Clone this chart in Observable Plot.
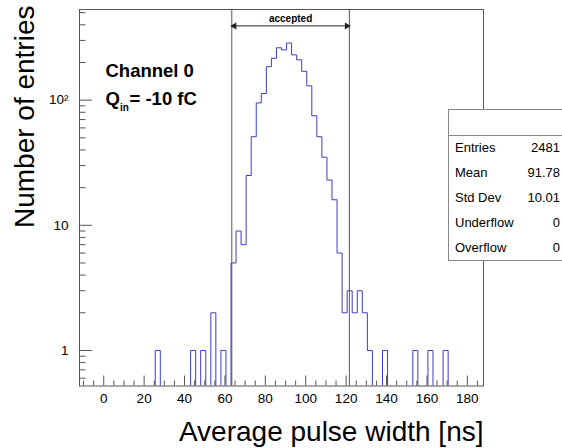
<!DOCTYPE html>
<html><head><meta charset="utf-8">
<script src="https://cdn.jsdelivr.net/npm/d3@7"></script>
<script src="https://cdn.jsdelivr.net/npm/@observablehq/plot@0.6"></script>
<style>
html,body{margin:0;padding:0;background:#fff;overflow:hidden;}
#wrap{position:relative;width:562px;height:448px;font-family:"Liberation Sans",Arial,Helvetica,sans-serif;overflow:hidden;}
#wrap svg{position:absolute;left:0;top:0;}
#stats{position:absolute;left:448px;top:109px;width:120px;height:152px;border:1px solid #888;background:#fff;box-sizing:border-box;font-size:13px;color:#000;}
#stats .hdr{position:absolute;left:0;right:0;top:0;height:25px;border-bottom:1px solid #888;}
#stats .row{position:absolute;left:6px;width:105px;height:22px;line-height:22px;}
#stats .row .v{position:absolute;right:0;top:0;}
</style></head><body><div id="wrap"></div>
<script>
// Histogram: 80 bins of width 2.5 starting at -12
const binLow = -12;
const binWidth = 2.5;
const counts = [
  0,0,0,0,0,0,0,0,0,0,
  0,0,0,0,0,1,0,0,0,0,
  0,0,1,0,1,0,2,0,1,0,
  5,9,7,25,51,95,113,185,216,262,
  252,286,230,210,170,130,75,51,35,23,
  16,6,2,3,2,3,2,1,0,0,
  1,0,0,0,0,0,1,0,0,1,
  0,0,1,0,0,0,0,0,0,0
];
const acceptedCuts = [63.4, 121.6];
const arrowLevel = 392;
const xMajorTicks = [0,20,40,60,80,100,120,140,160,180];
const xMinorTicks = [-10,-5,5,10,15,25,30,35,45,50,55,65,70,75,85,90,95,105,110,115,125,130,135,145,150,155,165,170,175,185];
const yMajorTicks = [1,10,100];
const yTickLabels = ["1","10","10²"];
const yMinorTicks = [0.6,0.7,0.8,0.9,2,3,4,5,6,7,8,9,20,30,40,50,60,70,80,90,200,300,400,500];
const statsLabels = ["Entries","Mean","Std Dev","Underflow","Overflow"];
const statsValues = ["2481","91.78","10.01","0","0"];
const xTitle = "Average pulse width [ns]";
const yTitle = "Number of entries";

const W = 562, H = 448, mL = 79, mR = 79, mT = 9, mB = 62.5;
const frameH = H - mT - mB, frameW = W - mL - mR;
const floorVal = 0.1; // empty bins drop below the frame (clipped)

const histPts = [];
counts.forEach((c, k) => {
  const x0 = binLow + k * binWidth, x1 = x0 + binWidth;
  const v = c > 0 ? c : floorVal;
  histPts.push({x: x0, y: v}, {x: x1, y: v});
});

const font = '"Liberation Sans", Arial, Helvetica, sans-serif';
const axisCol = "#555";
const mid = (acceptedCuts[0] + acceptedCuts[1]) / 2;

const chart = Plot.plot({
  width: W, height: H,
  marginLeft: mL, marginRight: mR, marginTop: mT, marginBottom: mB,
  x: {domain: [binLow, binLow + counts.length * binWidth], axis: null},
  y: {type: "log", domain: [0.52, 530], axis: null},
  style: {fontFamily: font, background: "white", color: "black"},
  marks: [
    Plot.line(histPts, {x: "x", y: "y", stroke: "#3c3cc8", strokeWidth: 1, clip: true}),
    Plot.ruleX(acceptedCuts, {stroke: axisCol}),
    Plot.link([0], {x1: () => acceptedCuts[0], x2: () => acceptedCuts[1], y1: () => arrowLevel, y2: () => arrowLevel, stroke: "#222"}),
    Plot.dot([0], {x: () => acceptedCuts[0], y: () => arrowLevel, symbol: "triangle", rotate: -90, r: 2.6, fill: "#222", stroke: "none", dx: 2.5}),
    Plot.dot([0], {x: () => acceptedCuts[1], y: () => arrowLevel, symbol: "triangle", rotate: 90, r: 2.6, fill: "#222", stroke: "none", dx: -2.5}),
    Plot.text(["accepted"], {x: () => mid, y: () => arrowLevel, dy: -7, fontSize: 10, fontWeight: "bold", textAnchor: "middle", lineAnchor: "middle"}),
    Plot.ruleX(xMajorTicks, {insetTop: frameH - 10, stroke: axisCol}),
    Plot.ruleX(xMinorTicks, {insetTop: frameH - 5, stroke: axisCol}),
    Plot.ruleY(yMajorTicks, {insetRight: frameW - 13, stroke: axisCol}),
    Plot.ruleY(yMinorTicks, {insetRight: frameW - 6.5, stroke: axisCol}),
    Plot.text(xMajorTicks, {x: d => d, frameAnchor: "bottom", dy: 13, text: d => String(d), fontSize: 13.5, textAnchor: "middle", lineAnchor: "middle"}),
    Plot.text(yMajorTicks, {y: d => d, frameAnchor: "left", dx: -11, text: (d, i) => yTickLabels[i], fontSize: 13.5, textAnchor: "end", lineAnchor: "middle"}),
    Plot.text([xTitle], {frameAnchor: "bottom-right", dy: 46, fontSize: 28, textAnchor: "end", lineAnchor: "middle"}),
    Plot.text([yTitle], {frameAnchor: "top-left", dx: -54, dy: -4, rotate: -90, fontSize: 28, textAnchor: "end", lineAnchor: "middle"}),
    Plot.text(["Channel 0"], {frameAnchor: "top-left", dx: 26, dy: 62, fontSize: 18.5, fontWeight: "bold", textAnchor: "start", lineAnchor: "middle"}),
    Plot.text(["Q"], {frameAnchor: "top-left", dx: 26, dy: 90, fontSize: 18.5, fontWeight: "bold", textAnchor: "start", lineAnchor: "middle"}),
    Plot.text(["in"], {frameAnchor: "top-left", dx: 40.5, dy: 98, fontSize: 10, fontWeight: "bold", textAnchor: "start", lineAnchor: "middle"}),
    Plot.text(["= -10 fC"], {frameAnchor: "top-left", dx: 50, dy: 90, fontSize: 18.5, fontWeight: "bold", textAnchor: "start", lineAnchor: "middle"}),
    Plot.frame({stroke: axisCol})
  ]
});

const wrap = document.getElementById("wrap");
wrap.appendChild(chart);

const stats = document.createElement("div");
stats.id = "stats";
const hdr = document.createElement("div");
hdr.className = "hdr";
stats.appendChild(hdr);
statsLabels.forEach((lab, i) => {
  const row = document.createElement("div");
  row.className = "row";
  row.style.top = (27 + i * 25) + "px";
  const l = document.createElement("span");
  l.textContent = lab;
  const v = document.createElement("span");
  v.className = "v";
  v.textContent = statsValues[i];
  row.appendChild(l); row.appendChild(v);
  stats.appendChild(row);
});
wrap.appendChild(stats);
</script>
</body></html>
